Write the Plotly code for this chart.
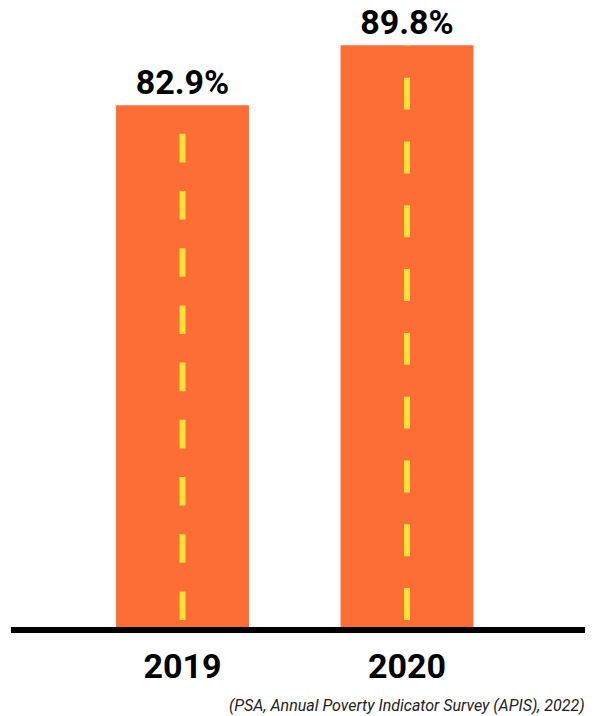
import plotly.graph_objects as go

# ---- data ----
years = ["2019", "2020"]
values = [82.9, 89.8]
value_labels = ["82.9%", "89.8%"]
source_text = "(PSA, Annual Poverty Indicator Survey (APIS), 2022)"

# ---- styling / layout constants ----
W, H = 596, 716
M_L, M_R, M_T, M_B = 11, 11, 0, 89
Y_MIN, Y_MAX = 22.9, 95.0
ORANGE = "#FC6E36"
YELLOW = "#FDE03A"
COND = "Roboto, sans-serif"

plot_h = H - M_T - M_B
px_per_unit = plot_h / (Y_MAX - Y_MIN)
BOTTOM_GAP_PX = 7

fig = go.Figure()
fig.add_trace(go.Bar(
    x=years, y=values, width=0.592,
    marker=dict(color=ORANGE, line=dict(width=0)),
    text=value_labels, textposition="outside", cliponaxis=False,
    textfont=dict(family=COND, size=34, color="black", weight="bold"),
    hoverinfo="skip", showlegend=False,
))

# road-style centre dashes, computed from each bar's height
for yr, v in zip(years, values):
    h_px = (v - Y_MIN) * px_per_unit
    period = h_px / 9.12
    dash = period / 2
    start = Y_MIN + BOTTOM_GAP_PX / px_per_unit
    fig.add_trace(go.Scatter(
        x=[yr, yr], y=[start, v], mode="lines",
        line=dict(color=YELLOW, width=6, dash=f"{dash:.1f}px,{period - dash:.1f}px"),
        hoverinfo="skip", showlegend=False,
    ))

fig.add_annotation(
    text=source_text, xref="paper", yref="paper", x=1, y=0,
    xanchor="right", yanchor="middle", xshift=2, yshift=-78, showarrow=False,
    font=dict(family="Roboto, sans-serif", size=16, color="#222", style="italic"),
)

fig.update_layout(
    width=W, height=H, margin=dict(l=M_L, r=M_R, t=M_T, b=M_B),
    paper_bgcolor="white", plot_bgcolor="white",
    xaxis=dict(type="category", range=[-0.764, 1.793], showgrid=False, zeroline=False,
               showline=True, linewidth=6, linecolor="black", ticks="",
               ticklabelstandoff=4,
               tickfont=dict(family=COND, size=34, color="black", weight="bold")),
    yaxis=dict(range=[Y_MIN, Y_MAX], visible=False, showgrid=False, zeroline=False),
)

fig.write_html("out.html")
